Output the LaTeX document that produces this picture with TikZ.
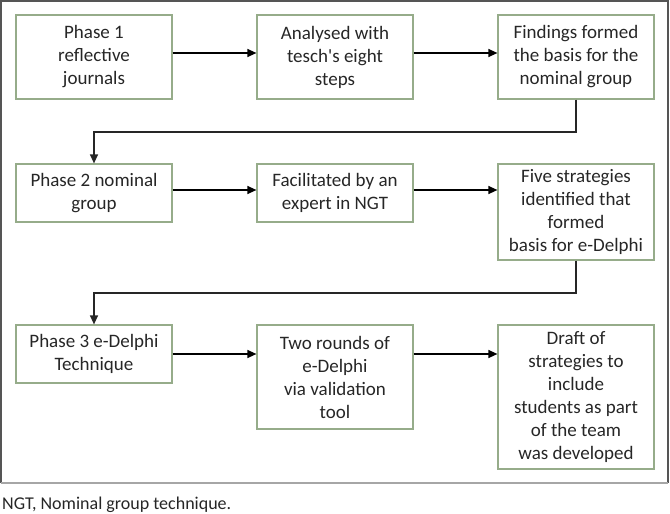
\documentclass[tikz,border=0pt]{standalone}
\usepackage{fontspec}
\setmainfont{Carlito}
\usetikzlibrary{arrows.meta}
\definecolor{boxline}{RGB}{150,172,138}
\definecolor{frameline}{RGB}{85,85,85}
\definecolor{txt}{RGB}{38,38,38}
\begin{document}
\begin{tikzpicture}[x=1pt,y=-1pt,
  stepbox/.style={draw=boxline,line width=1.2pt,rectangle,minimum width=156pt,
    align=center,inner sep=0pt,text=txt,font=\fontsize{19}{23}\selectfont},
  arr/.style={-{Triangle[length=9pt,width=8pt]},line width=1.3pt,black},
  link/.style={line width=1.3pt,draw=black!85}]
\useasboundingbox (0,0) rectangle (670,514);
\draw[frameline,line width=1.2pt] (1,483) -- (1,1) -- (668,1) -- (668,483);
\draw[black!35,line width=1.2pt] (1,483) -- (668,483);
% row 1
\node[stepbox,minimum height=84pt] (b1) at (94,57) {Phase 1\\reflective\\journals};
\node[stepbox,minimum height=84pt] (b2) at (335,57) {Analysed with\\tesch\textquotesingle s eight\\steps};
\node[stepbox,minimum height=84pt] (b3) at (576,57) {Findings formed\\the basis for the\\nominal group};
% row 2
\node[stepbox,minimum height=58pt] (b4) at (94,193) {Phase 2 nominal\\group};
\node[stepbox,minimum height=58pt] (b5) at (335,193) {Facilitated by an\\expert in NGT};
\node[stepbox,minimum height=96pt] (b6) at (576,212) {Five strategies\\identified that\\formed\\basis for e-Delphi};
% row 3
\node[stepbox,minimum height=58pt] (b7) at (94,354) {Phase 3 e-Delphi\\Technique};
\node[stepbox,minimum height=104pt] (b8) at (335,377) {Two rounds of\\e-Delphi\\via validation\\tool};
\node[stepbox,minimum height=144pt] (b9) at (576,397) {Draft of\\strategies to\\include\\students as part\\of the team\\was developed};
% arrows row 1
\draw[arr] ([yshift=4pt]b1.east) -- ([yshift=4pt]b1.east -| b2.west);
\draw[arr] ([yshift=4pt]b2.east) -- ([yshift=4pt]b2.east -| b3.west);
% connector 1
\coordinate (c1) at (0,132);
\draw[link,-{Triangle[length=9pt,width=8pt]}] (b3.south) -- (b3.south |- c1) -- (b4.north |- c1) -- (b4.north);
% arrows row 2
\draw[arr] ([yshift=3pt]b4.east) -- ([yshift=3pt]b4.east -| b5.west);
\draw[arr] ([yshift=3pt]b5.east) -- ([yshift=3pt]b5.east -| b6.west);
% connector 2
\coordinate (c2) at (0,293);
\draw[link,-{Triangle[length=9pt,width=8pt]}] (b6.south) -- (b6.south |- c2) -- (b7.north |- c2) -- (b7.north);
% arrows row 3
\draw[arr] (b7.east) -- (b7.east -| b8.west);
\draw[arr] (b7.east -| b8.east) -- (b7.east -| b9.west);
% caption
\node[anchor=west,inner sep=0pt,text=txt,font=\fontsize{18}{23}\selectfont] (cap) at (2,505) {NGT, Nominal group technique.};
\end{tikzpicture}
\end{document}
